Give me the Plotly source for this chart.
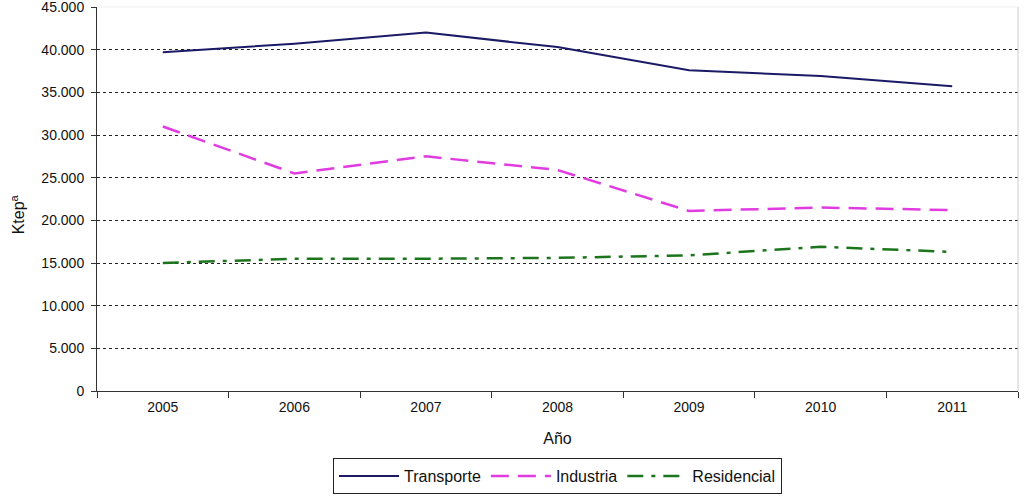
import plotly.graph_objects as go

years = ["2005", "2006", "2007", "2008", "2009", "2010", "2011"]
transporte = [39700, 40700, 42000, 40300, 37600, 36900, 35700]
industria = [31000, 25500, 27500, 25900, 21100, 21500, 21200]
residencial = [15000, 15500, 15500, 15600, 15900, 16900, 16300]
y_ticks = [0, 5000, 10000, 15000, 20000, 25000, 30000, 35000, 40000, 45000]

fig = go.Figure()
fig.add_trace(go.Scatter(x=years, y=transporte, name="Transporte", mode="lines",
                         line=dict(color="#1a1a66", width=2, dash="solid")))
fig.add_trace(go.Scatter(x=years, y=industria, name="Industria", mode="lines",
                         line=dict(color="#e03ce0", width=2.5, dash="18px,9px")))
fig.add_trace(go.Scatter(x=years, y=residencial, name="Residencial", mode="lines",
                         line=dict(color="#1c751c", width=2.5, dash="16px,8px,4px,8px")))

font = dict(family="Liberation Sans, Arial, sans-serif", color="#111111")
fig.update_layout(
    width=1024, height=496,
    margin=dict(l=97, r=6, t=7, b=105),
    paper_bgcolor="white", plot_bgcolor="white",
    separators=",.",
    font=dict(size=14, **font),
    showlegend=True,
    legend=dict(orientation="h", x=0.5, xanchor="center",
                yref="container", y=1 - 458 / 496, yanchor="top",
                bordercolor="#222222", borderwidth=1, font=dict(size=16, **font),
                itemwidth=60, tracegroupgap=0),
    xaxis=dict(type="category", tickson="boundaries", ticks="outside", ticklen=6,
               tickcolor="#333333", showline=True, linecolor="#333333", linewidth=1,
               showgrid=False, range=[-0.5, 6.5], automargin=False,
               ticklabelstandoff=3,
               title=dict(text="Año", font=dict(size=16, **font), standoff=19),
               tickfont=dict(size=14, **font)),
    yaxis=dict(range=[0, 45000], tickvals=y_ticks, tickformat=",d",
               ticks="outside", ticklen=5, tickcolor="#333333",
               showline=True, linecolor="#333333", linewidth=1,
               showgrid=True, gridcolor="#222222", griddash="dot", gridwidth=1,
               zeroline=False, automargin=False, ticklabeloverflow="allow",
               ticklabelstandoff=4,
               tickfont=dict(size=14, **font)),
    annotations=[dict(text="Ktep<sup>a</sup>", xref="paper", yref="paper",
                      x=(18 - 97) / 921, y=0.46, xanchor="center", yanchor="middle",
                      textangle=-90, showarrow=False, font=dict(size=16, **font))],
)
fig.add_shape(type="line", xref="paper", yref="paper", x0=1, x1=1, y0=0, y1=1,
              line=dict(color="#cccccc", width=1))
fig.add_shape(type="line", xref="paper", yref="paper", x0=0, x1=1, y0=1, y1=1,
              line=dict(color="#eeeeee", width=1))

fig.write_html("out.html", config={"displayModeBar": False},
               post_script="document.body.style.margin='0';")
